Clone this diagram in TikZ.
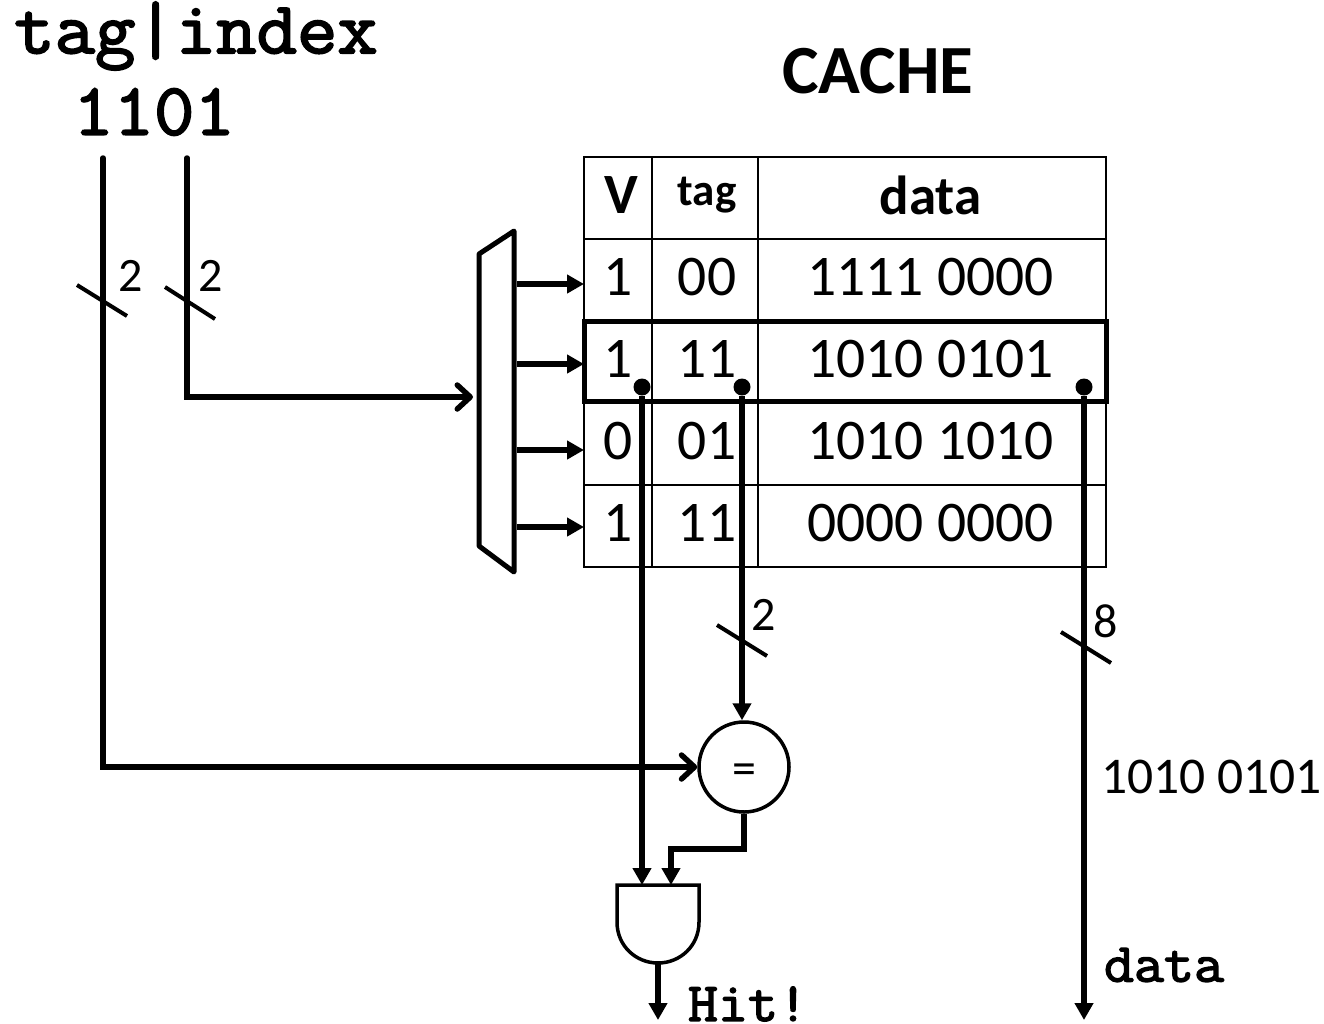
\documentclass[tikz,border=0pt]{standalone}
\usepackage{fontspec}
\setmainfont{Carlito}
\setmonofont[FakeBold=2.5,FakeStretch=1.06]{Latin Modern Mono}
\usetikzlibrary{positioning}
\usetikzlibrary{arrows.meta}
\tikzset{cell/.style = {draw, line width=2.5pt, outer sep=0pt, inner sep=0pt, minimum height=82pt, text depth=6pt, font=\fontsize{57.5}{57.5}\selectfont}}
\tikzset{vcell/.style = {cell, minimum width=68pt}}
\tikzset{tcell/.style = {cell, minimum width=106pt, execute at begin node=\hspace{4pt}}}
\tikzset{dcell/.style = {cell, minimum width=348pt, execute at end node=\hspace{3pt}}}
\tikzset{wire/.style = {line width=5.5pt}}
\tikzset{arr/.style = {wire, -{Triangle[length=17pt,width=18pt]}}}
\tikzset{barb/.style = {wire, line cap=round, -{Straight Barb[length=13pt,width=24pt,round]}}}
\tikzset{slash/.style = {line width=4pt}}
\tikzset{dot/.style = {circle, fill, inner sep=0pt, minimum size=17pt}}
\tikzset{num/.style = {inner sep=0pt, font=\fontsize{48}{48}\selectfont}}
\tikzset{mono/.style = {inner sep=0pt, font=\fontsize{55}{55}\selectfont\ttfamily}}

\begin{document}
\begin{tikzpicture}[x=1pt, y=-1pt]
\useasboundingbox (0,0) rectangle (1324,1023);

\node[mono, font=\fontsize{74}{74}\selectfont\ttfamily] (addr) at (196,36) {tag|index};
\node[mono, font=\fontsize{74}{74}\selectfont\ttfamily] (bits) at (154,112) {1101};
\node[inner sep=0pt, font=\fontsize{69}{69}\selectfont\bfseries] (title) at (878,71) {CACHE};

% table, one row after the other
\node[vcell, anchor=north west, font=\fontsize{57}{57}\selectfont\bfseries] (v0) at (584,157) {\hspace{6pt}V};
\node[tcell, right=0pt of v0, text depth=14pt, font=\fontsize{45}{45}\selectfont\bfseries] (t0) {tag};
\node[dcell, right=0pt of t0, font=\fontsize{55}{55}\selectfont\bfseries] (d0) {data};
\node[vcell, below=0pt of v0] (v1) {1};
\node[tcell, right=0pt of v1] (t1) {00};
\node[dcell, right=0pt of t1] (d1) {1111 0000};
\node[vcell, below=0pt of v1] (v2) {1};
\node[tcell, right=0pt of v2] (t2) {11};
\node[dcell, right=0pt of t2] (d2) {1010 0101};
\node[vcell, below=0pt of v2] (v3) {0};
\node[tcell, right=0pt of v3] (t3) {01};
\node[dcell, right=0pt of t3] (d3) {1010 1010};
\node[vcell, below=0pt of v3] (v4) {1};
\node[tcell, right=0pt of v4] (t4) {11};
\node[dcell, right=0pt of t4] (d4) {0000 0000};
\draw[line width=5pt] (v2.north west) rectangle ([yshift=2pt]d2.south east);

% decoder
\draw[line width=5pt, line join=round] (479,254) -- (514,231) -- (514,572) -- (479,546) -- cycle;
\coordinate (m0) at (473,397);
\coordinate (m1) at (517,284);
\coordinate (m2) at (517,364);
\coordinate (m3) at (517,450);
\coordinate (m4) at (517,527);
\draw[arr] (m1) -- (v1.west |- m1);
\draw[arr] (m2) -- (v2.west |- m2);
\draw[arr] (m3) -- (v3.west |- m3);
\draw[arr] (m4) -- (v4.west |- m4);

\node[draw, circle, line width=3.5pt, fill=white, inner sep=0pt, minimum size=90pt, text height=34pt, font=\fontsize{48}{48}\selectfont] (eq) at (744,767) {=};

% and gate
\draw[line width=3.5pt, fill=white] (617,885) -- (699,885) -- (699,922) .. controls (699,946) and (680,963) .. (658,963) .. controls (636,963) and (617,946) .. (617,922) -- cycle;
\coordinate (a1) at (642,885);
\coordinate (a2) at (671,885);
\coordinate (a3) at (658,961);
\coordinate (hit) at (658,1020);

\node[dot] (pv) at (642,387) {};
\node[dot] (pt) at (742,387) {};
\node[dot] (pd) at (1084,387) {};
\coordinate (tagin) at (103,158);
\coordinate (idxin) at (187,158);
\coordinate (dout) at (1084,1020);

\draw[barb] (tagin) |- (eq.west);
\draw[barb] (idxin) |- (m0);
\draw[arr] (pv) -- (a1);
\draw[arr] (pt) -- (pt |- eq.north);
\draw[arr, line join=miter] (eq.south) -- (744,849) -- (671,849) -- (a2);
\draw[arr] (a3) -- (hit);
\draw[arr] (pd) -- (dout);

\draw[slash] (77,285) -- (127,316);
\draw[slash] (165,287) -- (215,319);
\draw[slash] (717,625) -- (767,656);
\draw[slash] (1061,632) -- (1111,663);
\node[num] (n1) at (131,276) {2};
\node[num] (n2) at (211,276) {2};
\node[num] (n3) at (764,615) {2};
\node[num] (n4) at (1106,621) {8};

\node[inner sep=0pt, font=\fontsize{51.5}{51.5}\selectfont] (val) at (1211.5,777) {1010 0101};
\node[mono] (lab) at (1164,965) {data};
\node[mono] (res) at (748,1004) {Hit!};

\end{tikzpicture}
\end{document}
